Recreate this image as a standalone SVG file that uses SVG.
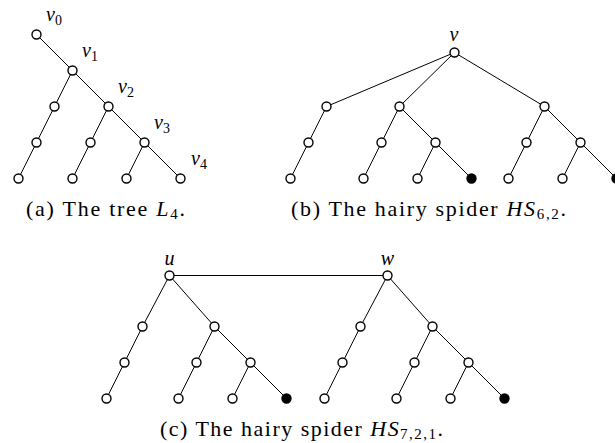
<svg xmlns="http://www.w3.org/2000/svg" width="615" height="443" viewBox="0 0 615 443">
<style>
.e{stroke:#000;stroke-width:1;fill:none}
.n{fill:#fff;stroke:#000;stroke-width:1.4}
.f{fill:#000;stroke:#000;stroke-width:1.4}
.t{font-family:"Liberation Serif","Times New Roman",serif;font-size:22px;fill:#000}
.m{font-family:"Liberation Serif","Times New Roman",serif;font-size:20px;font-style:italic;fill:#000}
.s{font-size:14px;font-style:normal}
</style>
<rect width="615" height="443" fill="#fff"/>
<g id="edges">
<!-- (a) -->
<path class="e" d="M36.5,34.5 L72.5,70.5 L108.5,106.5 L144.5,142.5 L180.5,178.5"/>
<path class="e" d="M72.5,70.5 L54.5,106.5 L36.5,142.5 L18.5,178.5"/>
<path class="e" d="M108.5,106.5 L90.5,142.5 L72.5,178.5"/>
<path class="e" d="M144.5,142.5 L126.5,178.5"/>
<!-- (b) -->
<path class="e" d="M454.5,52.5 L326.5,106.5 L308.5,142.5 L290.5,178.5"/>
<path class="e" d="M454.5,52.5 L399.5,106.5 L381.5,142.5 L363.5,178.5"/>
<path class="e" d="M399.5,106.5 L435.5,142.5 L471.5,178.5 M435.5,142.5 L417.5,178.5"/>
<path class="e" d="M454.5,52.5 L544.5,106.5 L526.5,142.5 L508.5,178.5"/>
<path class="e" d="M544.5,106.5 L580.5,142.5 L616.5,178.5 M580.5,142.5 L562.5,178.5"/>
<!-- (c) -->
<path class="e" d="M169.5,275.5 L387.5,275.5"/>
<path class="e" d="M169.5,275.5 L142.5,326.5 L124.5,362.5 L106.5,398.5"/>
<path class="e" d="M169.5,275.5 L214.5,326.5 L196.5,362.5 L178.5,398.5"/>
<path class="e" d="M214.5,326.5 L250.5,362.5 L286.5,398.5 M250.5,362.5 L232.5,398.5"/>
<path class="e" d="M387.5,275.5 L360.5,326.5 L342.5,362.5 L324.5,398.5"/>
<path class="e" d="M387.5,275.5 L432.5,326.5 L414.5,362.5 L396.5,398.5"/>
<path class="e" d="M432.5,326.5 L468.5,362.5 L504.5,398.5 M468.5,362.5 L450.5,398.5"/>
</g>
<g id="treeA">
<circle class="n" cx="36.5" cy="34.5" r="4.5"/>
<circle class="n" cx="72.5" cy="70.5" r="4.5"/>
<circle class="n" cx="108.5" cy="106.5" r="4.5"/>
<circle class="n" cx="144.5" cy="142.5" r="4.5"/>
<circle class="n" cx="180.5" cy="178.5" r="4.5"/>
<circle class="n" cx="54.5" cy="106.5" r="4.5"/>
<circle class="n" cx="36.5" cy="142.5" r="4.5"/>
<circle class="n" cx="18.5" cy="178.5" r="4.5"/>
<circle class="n" cx="90.5" cy="142.5" r="4.5"/>
<circle class="n" cx="72.5" cy="178.5" r="4.5"/>
<circle class="n" cx="126.5" cy="178.5" r="4.5"/>
<text class="m" x="46" y="21">v<tspan class="s" dy="4">0</tspan></text>
<text class="m" x="82" y="57">v<tspan class="s" dy="4">1</tspan></text>
<text class="m" x="118" y="93">v<tspan class="s" dy="4">2</tspan></text>
<text class="m" x="154" y="129">v<tspan class="s" dy="4">3</tspan></text>
<text class="m" x="191" y="165">v<tspan class="s" dy="4">4</tspan></text>
</g>
<g id="treeB">
<circle class="n" cx="454.5" cy="52.5" r="4.5"/>
<circle class="n" cx="326.5" cy="106.5" r="4.5"/>
<circle class="n" cx="308.5" cy="142.5" r="4.5"/>
<circle class="n" cx="290.5" cy="178.5" r="4.5"/>
<circle class="n" cx="399.5" cy="106.5" r="4.5"/>
<circle class="n" cx="381.5" cy="142.5" r="4.5"/>
<circle class="n" cx="363.5" cy="178.5" r="4.5"/>
<circle class="n" cx="435.5" cy="142.5" r="4.5"/>
<circle class="n" cx="417.5" cy="178.5" r="4.5"/>
<circle class="f" cx="471.5" cy="178.5" r="4.5"/>
<circle class="n" cx="544.5" cy="106.5" r="4.5"/>
<circle class="n" cx="526.5" cy="142.5" r="4.5"/>
<circle class="n" cx="508.5" cy="178.5" r="4.5"/>
<circle class="n" cx="580.5" cy="142.5" r="4.5"/>
<circle class="n" cx="562.5" cy="178.5" r="4.5"/>
<circle class="f" cx="616.5" cy="178.5" r="4.5"/>
<text class="m" x="454" y="41" text-anchor="middle">v</text>
</g>
<g id="treeC">
<circle class="n" cx="169.5" cy="275.5" r="4.5"/>
<circle class="n" cx="387.5" cy="275.5" r="4.5"/>
<circle class="n" cx="142.5" cy="326.5" r="4.5"/>
<circle class="n" cx="124.5" cy="362.5" r="4.5"/>
<circle class="n" cx="106.5" cy="398.5" r="4.5"/>
<circle class="n" cx="214.5" cy="326.5" r="4.5"/>
<circle class="n" cx="196.5" cy="362.5" r="4.5"/>
<circle class="n" cx="178.5" cy="398.5" r="4.5"/>
<circle class="n" cx="250.5" cy="362.5" r="4.5"/>
<circle class="n" cx="232.5" cy="398.5" r="4.5"/>
<circle class="f" cx="286.5" cy="398.5" r="4.5"/>
<circle class="n" cx="360.5" cy="326.5" r="4.5"/>
<circle class="n" cx="342.5" cy="362.5" r="4.5"/>
<circle class="n" cx="324.5" cy="398.5" r="4.5"/>
<circle class="n" cx="432.5" cy="326.5" r="4.5"/>
<circle class="n" cx="414.5" cy="362.5" r="4.5"/>
<circle class="n" cx="396.5" cy="398.5" r="4.5"/>
<circle class="n" cx="468.5" cy="362.5" r="4.5"/>
<circle class="n" cx="450.5" cy="398.5" r="4.5"/>
<circle class="f" cx="504.5" cy="398.5" r="4.5"/>
<text class="m" x="169.5" y="265" text-anchor="middle">u</text>
<text class="m" x="387.5" y="265" text-anchor="middle">w</text>
</g>
<g id="captions">
<text class="t" x="26" y="216" textLength="159" lengthAdjust="spacing">(a) The tree <tspan font-style="italic">L</tspan><tspan font-size="15" dy="3">4</tspan><tspan dy="-3">.</tspan></text>
<text class="t" x="291" y="216" textLength="275" lengthAdjust="spacing">(b) The hairy spider <tspan font-style="italic">HS</tspan><tspan font-size="15" dy="3">6,2</tspan><tspan dy="-3">.</tspan></text>
<text class="t" x="160" y="436" textLength="283" lengthAdjust="spacing">(c) The hairy spider <tspan font-style="italic">HS</tspan><tspan font-size="15" dy="3">7,2,1</tspan><tspan dy="-3">.</tspan></text>
</g>
</svg>
